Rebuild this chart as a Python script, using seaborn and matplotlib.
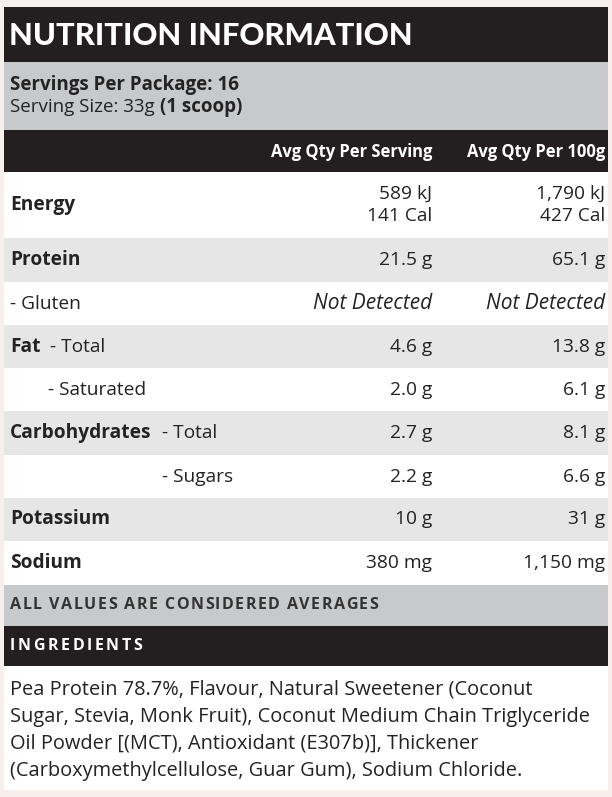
import matplotlib
import seaborn as sns
import matplotlib.pyplot as plt

sns.set_theme(style="white")
plt.rcParams["font.family"] = ["Open Sans", "DejaVu Sans"]

# table content
nutrients = ["Energy", "Protein", "- Gluten", "Fat", "- Saturated",
             "Carbohydrates", "- Sugars", "Potassium", "Sodium"]
sub_labels = ["", "", "", "- Total", "", "- Total", "", "", ""]
per_serving = ["589 kJ\n141 Cal", "21.5 g", "Not Detected", "4.6 g", "2.0 g",
               "2.7 g", "2.2 g", "10 g", "380 mg"]
per_100g = ["1,790 kJ\n427 Cal", "65.1 g", "Not Detected", "13.8 g", "6.1 g",
            "8.1 g", "6.6 g", "31 g", "1,150 mg"]
col_headers = ["Avg Qty Per Serving", "Avg Qty Per 100g"]
ingredients = [
    "Pea Protein 78.7%, Flavour, Natural Sweetener (Coconut",
    "Sugar, Stevia, Monk Fruit), Coconut Medium Chain Triglyceride",
    "Oil Powder [(MCT), Antioxidant (E307b)], Thickener",
    "(Carboxymethylcellulose, Guar Gum), Sodium Chloride.",
]

DARK = "#231f20"
MID = "#c8c9cb"
LIGHT = "#e6e6e7"
BG = "#f6efec"
INK = "#232323"

fig = plt.figure(figsize=(6.12, 7.97), dpi=100, facecolor=BG)
ax = fig.add_axes([0, 0, 1, 1])
ax.set_xlim(0, 612)
ax.set_ylim(797, 0)
ax.axis("off")

L, R = 4, 608
col1, col2 = 432, 605
FS = 13.8


def band(y0, y1, color):
    ax.fill_between([L, R], y0, y1, color=color, lw=0)


def spaced(x, y, s, track, **kw):
    # letter-spaced caps, one glyph at a time
    inv = ax.transData.inverted()
    for ch in s:
        t = ax.text(x, y, ch, va="center", **kw)
        fig.canvas.draw()
        bb = t.get_window_extent().transformed(inv)
        x = bb.x1 + track if ch != " " else x + (bb.x1 - bb.x0) + track


# card background
band(7, 790, "white")
band(7, 62, DARK)
band(62, 130, MID)
band(130, 172, DARK)

ax.text(9, 36, "NUTRITION INFORMATION", color="white", fontsize=22.2,
        fontweight="black", va="center", family=["Lato", "DejaVu Sans"])
ax.text(10, 85, "Servings Per Package: 16", color=INK, fontsize=13.5,
        fontweight="bold", va="center")
t = ax.text(10, 107, "Serving Size: 33g", color=INK, fontsize=13.5,
            va="center")
fig.canvas.draw()
bb = t.get_window_extent().transformed(ax.transData.inverted())
ax.text(bb.x1 + 5, 107, "(1 scoop)", color=INK, fontsize=13.5,
        fontweight="bold", va="center")
ax.text(col1, 152, col_headers[0], color="white", fontsize=11.9,
        fontweight="bold", va="center", ha="right")
ax.text(col2, 152, col_headers[1], color="white", fontsize=11.9,
        fontweight="bold", va="center", ha="right")

# body rows
row_edges = [172, 238, 282, 325, 368, 411, 455, 498, 541, 585]
sub_x = {3: 50, 5: 162}
indent_x = {2: 10, 4: 48, 6: 162}
for i, name in enumerate(nutrients):
    y0, y1 = row_edges[i], row_edges[i + 1]
    yc = (y0 + y1) / 2
    if i % 2 == 1:
        band(y0, y1, LIGHT)
    if i in indent_x:
        ax.text(indent_x[i], yc, name, fontsize=FS, color=INK, va="center")
    else:
        ax.text(10, yc, name, fontsize=FS, color=INK, va="center",
                fontweight="bold")
    if sub_labels[i]:
        ax.text(sub_x[i], yc, sub_labels[i], fontsize=FS, color=INK,
                va="center")
    style = "italic" if per_serving[i] == "Not Detected" else "normal"
    fs = FS + 1.2 if style == "italic" else FS
    ax.text(col1, yc, per_serving[i], fontsize=fs, color=INK,
            va="center", ha="right", style=style, linespacing=1.35)
    ax.text(col2, yc, per_100g[i], fontsize=fs, color=INK,
            va="center", ha="right", style=style, linespacing=1.35)

band(585, 626, MID)
spaced(10, 605, "ALL VALUES ARE CONSIDERED AVERAGES", 1.5, fontsize=11.5,
       fontweight="bold", color="#333")
band(626, 666, DARK)
spaced(10, 646, "INGREDIENTS", 2.6, fontsize=11.5, fontweight="bold",
       color="white")

for k, line in enumerate(ingredients):
    ax.text(10, 690 + 27 * k, line, fontsize=14.4, color=INK, va="center")

plt.savefig("out.png", dpi=100, facecolor=BG)
